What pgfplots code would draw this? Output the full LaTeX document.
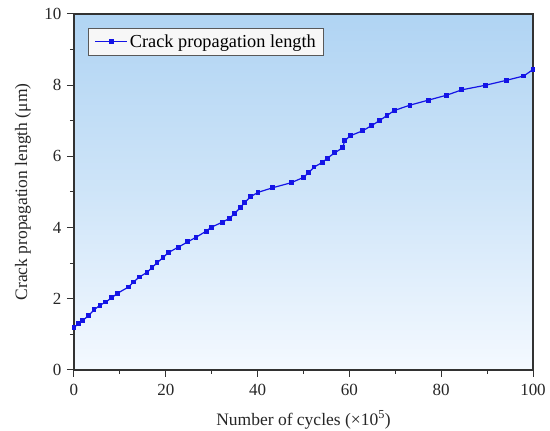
\documentclass[border=0pt]{standalone}
\usepackage{pgfplots}
\pgfplotsset{compat=1.18}
\usepackage{fontspec}
\setmainfont{Liberation Serif}
\definecolor{bgtop}{RGB}{176,212,243}
\definecolor{bgbot}{RGB}{244,249,255}
\definecolor{lineblue}{RGB}{20,20,230}
\definecolor{axgray}{RGB}{50,50,50}
\begin{document}
\begin{tikzpicture}
\useasboundingbox (-74pt,-61pt) rectangle (476pt,370pt);
\begin{axis}[
  at={(0,0)}, anchor=south west,
  scale only axis, width=459pt, height=356pt,
  xmin=0, xmax=100, ymin=0, ymax=10,
  xtick={0,20,40,60,80,100}, ytick={0,2,4,6,8,10},
  minor x tick num=1, minor y tick num=1,
  tick pos=left, tick align=outside,
  major tick length=7pt, minor tick length=4pt,
  every tick/.style={axgray, line width=1pt},
  axis line style={axgray, line width=1.2pt},
  /pgf/number format/assume math mode=true,
  tick label style={font=\fontsize{17}{20}\selectfont, text=black!85},
  xticklabel style={yshift=-4pt},
  yticklabel style={xshift=-2pt},
  xlabel={Number of cycles (×10\textsuperscript{5})},
  ylabel={Crack propagation length (μm)},
  xlabel style={at={(axis description cs:0.5,-0.1404)}, anchor=center, font=\fontsize{17.5}{20}\selectfont, text=black!85},
  ylabel style={at={(axis description cs:-0.111,0.5)}, rotate=0, anchor=center, font=\fontsize{17.5}{20}\selectfont, text=black!85},
  axis background/.style={shade, top color=bgtop, bottom color=bgbot, middle color=bgtop!55!bgbot},
  legend style={at={(axis description cs:0.031,0.9615)}, anchor=north west,
    draw=black!65, line width=0.8pt, fill=white!97!black, font=\fontsize{18.3}{21}\selectfont,
    inner xsep=6pt, inner ysep=4.5pt},
  legend image code/.code={\draw[mark repeat=2,mark phase=2,#1] plot coordinates {(0pt,0pt) (16pt,0pt) (32pt,0pt)};},
  legend cell align=left,
]
\addplot[lineblue, line width=1.2pt, mark=square*, mark size=1.8pt, mark options={solid, fill=lineblue, draw=lineblue}]
coordinates {
(0,1.19) (0.95,1.31) (1.89,1.39) (3.13,1.52) (4.37,1.69) (5.68,1.82) (6.92,1.91)
(8.23,2.03) (9.54,2.16) (11.87,2.33) (12.96,2.47) (14.2,2.61) (15.9,2.74) (17.0,2.88)
(18.1,3.01) (19.4,3.16) (20.6,3.30) (22.7,3.45) (24.8,3.60) (26.6,3.73) (28.8,3.90)
(29.9,4.01) (32.3,4.15) (33.9,4.26) (35.0,4.40) (36.3,4.57) (37.2,4.71) (38.5,4.87)
(40.1,4.99) (43.3,5.12) (47.3,5.26) (50.0,5.41) (51.1,5.54) (52.3,5.70) (54.1,5.83)
(55.2,5.95) (56.8,6.10) (58.5,6.24) (59.0,6.44) (60.2,6.58) (62.9,6.72) (64.9,6.87)
(66.5,7.00) (68.2,7.15) (69.8,7.29) (73.2,7.44) (77.2,7.58) (81.2,7.72) (84.5,7.87)
(89.7,8.00) (94.3,8.14) (98.0,8.26) (100,8.44)
};
\addlegendentry{Crack propagation length}
\end{axis}
\end{tikzpicture}
\end{document}
